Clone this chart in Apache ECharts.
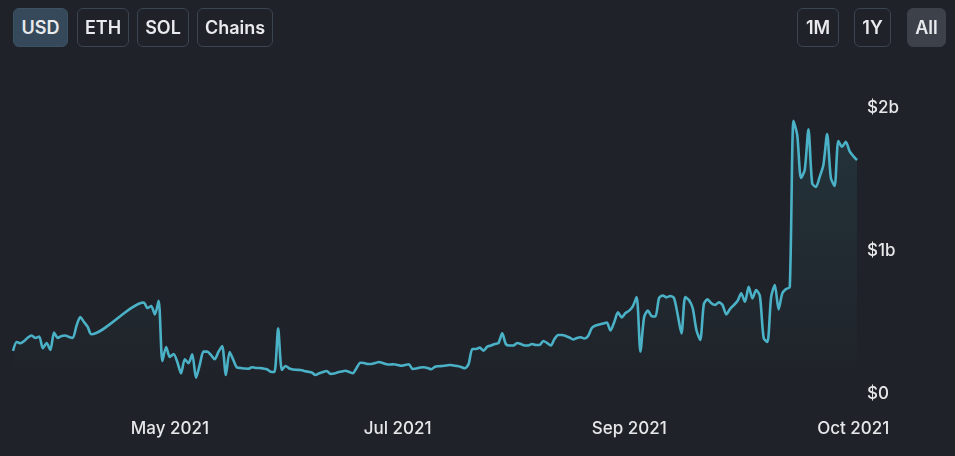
<!DOCTYPE html>
<html><head><meta charset="utf-8">
<script src="https://cdn.jsdelivr.net/npm/echarts@6/dist/echarts.min.js"></script>
<style>
html,body{margin:0;padding:0;background:#1f2228;width:955px;height:456px;overflow:hidden;font-family:Inter,"Noto Sans",sans-serif;}
#chart{position:absolute;left:0;top:0;width:955px;height:456px;}
.btn{position:absolute;top:8px;height:39px;box-sizing:border-box;border:1px solid #3b4550;border-radius:6px;color:#e8eaed;font:600 18px Inter,sans-serif;display:flex;align-items:center;justify-content:center;background:transparent;}
</style></head>
<body>
<div id="chart"></div>
<div class="btn" style="left:13px;width:55px;background:#35495a;border-color:#3b5263">USD</div>
<div class="btn" style="left:77px;width:52px;">ETH</div>
<div class="btn" style="left:137px;width:52px;">SOL</div>
<div class="btn" style="left:197px;width:76px;">Chains</div>
<div class="btn" style="left:797px;width:42px;">1M</div>
<div class="btn" style="left:854px;width:37px;">1Y</div>
<div class="btn" style="left:907px;width:39px;background:#3d414a;border-color:#3d414a">All</div>
<script>
// TVL in $ millions, daily
const seg1Start = '2021-03-20';
const seg1Values = [301,364,355,371,395,409,392,402,320,357,308,429,392,406,409,399,392,476,538,504,469,418];
const seg2Start = '2021-04-24';
const seg2Values = [
640,601,615,557,652,231,329,259,280,224,
145,243,215,278,114,203,296,296,273,243,
294,336,133,294,238,185,182,178,177,187,
182,182,178,173,156,154,459,168,196,178,
171,169,168,161,156,150,133,145,154,161,
140,143,152,157,163,154,145,182,219,217,
210,210,217,224,217,208,206,208,203,198,
203,208,175,178,185,187,182,173,191,194,
196,199,203,199,196,189,180,210,315,315,
324,303,331,339,350,357,424,348,339,339,
357,350,339,339,350,343,343,371,357,339,
385,413,413,406,395,381,392,397,388,406,
462,479,486,493,500,444,504,571,536,566,
583,615,678,296,538,583,545,542,671,689,
676,685,671,552,424,678,657,601,448,378,
629,662,634,622,641,622,557,594,622,650,
704,645,750,669,727,685,392,364,678,762,
592,704,734,748,1910,1811,1511,1566,1851,1473,
1448,1518,1601,1818,1511,1455,1769,1729,1764,1699,
1664,1636];
const axisStart = '2021-03-20';
const axisEnd = '2021-11-01';
const tickDates = ['2021-05-01','2021-07-01','2021-09-01','2021-10-31'];
const tickLabels = ['May 2021','Jul 2021','Sep 2021','Oct 2021'];
const yTicks = [0, 1e9, 2e9];
const yTickLabels = ['$0','$1b','$2b'];

function ts(s, add){ const p = s.split('-').map(Number); return Date.UTC(p[0], p[1]-1, p[2] + (add||0)); }
function build(start, vals){ return vals.map((v,i)=>[ts(start,i), v*1e6]); }
const seriesData = build(seg1Start, seg1Values).concat(build(seg2Start, seg2Values));
const tickTs = tickDates.map(d=>ts(d));

const chart = echarts.init(document.getElementById('chart'), null, {renderer:'canvas'});
chart.setOption({
  backgroundColor: '#1f2228',
  animation: false,
  grid: {left: 13, right: 98, top: 108, bottom: 62, containLabel: false},
  xAxis: {
    type: 'value', min: ts(axisStart), max: ts(axisEnd), scale: true,
    axisLine: {show:false}, axisTick: {show:false}, splitLine: {show:false},
    axisLabel: {
      customValues: tickTs,
      formatter: function(v){ const i = tickTs.indexOf(v); return i>=0 ? tickLabels[i] : ''; },
      color: '#e6e7e9', fontSize: 17, fontFamily: 'Inter', fontWeight: 500, margin: 26, hideOverlap: false
    }
  },
  yAxis: {
    type: 'value', position: 'right', min: yTicks[0], max: yTicks[yTicks.length-1], interval: 1e9,
    axisLine: {show:false}, axisTick: {show:false}, splitLine: {show:false},
    axisLabel: {
      formatter: function(v){ const i = yTicks.indexOf(v); return i>=0 ? yTickLabels[i] : ''; },
      color: '#e6e7e9', fontSize: 17, fontFamily: 'Inter', fontWeight: 500, margin: 10
    }
  },
  series: [{
    type: 'line', data: seriesData, showSymbol: false, smooth: 0.25,
    lineStyle: {width: 2.6, color: '#4ab1c7'},
    itemStyle: {color: '#4ab1c7'},
    areaStyle: {color: new echarts.graphic.LinearGradient(0,0,0,1,[
      {offset:0, color:'rgba(74,177,199,0.17)'},
      {offset:1, color:'rgba(74,177,199,0)'}
    ])}
  }]
});
</script>
</body></html>
